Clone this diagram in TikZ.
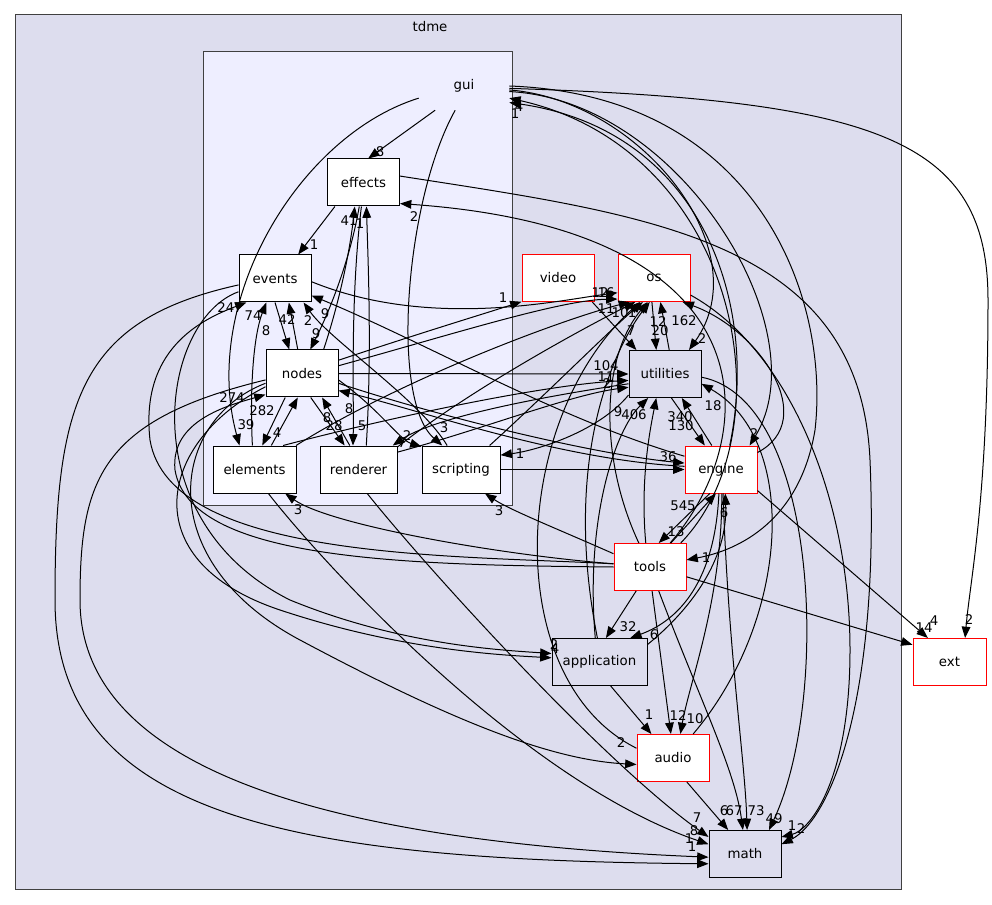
\documentclass[tikz,border=0pt]{standalone}
\usepackage{fontspec}
\setmainfont{DejaVu Sans}
\usetikzlibrary{arrows.meta}
\definecolor{clusterbg}{HTML}{DDDDEE}
\definecolor{guibg}{HTML}{EEEEFF}
\tikzset{
dirbox/.style={draw=black, fill=white, line width=0.75pt, minimum width=54pt, minimum height=35.25pt, inner sep=0pt, font=\fontsize{10}{12}\selectfont},
extdir/.style={dirbox, draw=red},
localdir/.style={dirbox, fill=clusterbg},
cluster/.style={draw=black!75, line width=0.75pt},
dep/.style={-{Triangle[length=8.5pt,width=6.5pt]}, line width=0.75pt},
num/.style={font=\fontsize{10}{12}\selectfont, inner sep=0pt},
}

\begin{document}
\begin{tikzpicture}[x=0.75pt,y=-0.75pt]
\useasboundingbox (0,0) rectangle (992,905);

%
\draw[cluster, fill=clusterbg] (15,15) rectangle (901,889);
\node[num] (tdmename) at (430,27) {tdme};
\draw[cluster, fill=guibg] (203,52) rectangle (512,505);

%
\node[num, minimum width=67.5pt, minimum height=36pt] (gui) at (464,86) {gui};
\node[dirbox] (effects) at (363.5,182.5) {effects};
\node[dirbox] (events) at (275,278.5) {events};
\node[dirbox] (nodes) at (302,373.5) {nodes};
\node[dirbox, minimum width=62.25pt] (elements) at (254.5,469.5) {elements};
\node[dirbox, minimum width=57.75pt] (renderer) at (358.5,469.5) {renderer};
\node[dirbox, minimum width=58.5pt] (scripting) at (461,469.5) {scripting};
\node[extdir] (video) at (558,278) {video};
\node[extdir] (os) at (654,278) {os};
\node[localdir] (utilities) at (665,374) {utilities};
\node[extdir] (engine) at (721,469.5) {engine};
\node[extdir] (tools) at (650,567) {tools};
\node[localdir, minimum width=71.25pt] (application) at (599.5,662) {application};
\node[extdir] (audio) at (673,758) {audio};
\node[localdir] (math) at (745,854) {math};
\node[extdir, minimum width=54.75pt] (ext) at (949.5,662) {ext};

%
\draw[dep] (gui.-140) -- (effects.79) node[num] (c1) at (380,152) {8};
\draw[dep] (gui.-165) .. controls (300,135) and (200,300) .. (elements.122) node[num] (c2) at (246,425) {39};
\draw[dep] (gui.-110) .. controls (405,200) and (390,400) .. (scripting.128) node[num] (c3) at (444,428) {3};
\draw[dep] (gui.-3) .. controls (880,100) and (988,140) .. (988,300) .. controls (988,500) and (970,580) .. (ext.57) node[num] (c4) at (969,620) {2};
\draw[dep] (tools.38) .. controls (790,430) and (740,150) .. (gui.-15) node[num] (c5) at (519,107) {4};
\draw[dep] (engine.70) .. controls (760,300) and (700,130) .. (gui.-20) node[num] (c6) at (515,114) {1};
\draw[dep] (gui.-5) .. controls (640,100) and (760,250) .. (utilities.45) node[num] (c7) at (702,339) {2};
\draw[dep] (gui.-7) .. controls (680,100) and (820,330) .. (engine.40) node[num] (c8) at (754,434) {2};
\draw[dep] (gui.0) .. controls (760,95) and (830,300) .. (815,430) .. controls (800,520) and (740,550) .. (tools.11) node[num] (c9) at (706,558) {1};

%
\draw[dep] (effects.-140) -- (events.46) node[num] (c10) at (314,245) {1};
\draw[dep] (effects.-100) .. controls (350,260) and (330,310) .. (nodes.71) node[num] (c11) at (316,334) {9};
\draw[dep] (nodes.48) .. controls (340,300) and (350,250) .. (effects.-110) node[num] (c12) at (349,221) {41};
\draw[dep] (effects.-95) .. controls (350,300) and (354,400) .. (renderer.103) node[num] (c13) at (362,426) {5};
\draw[dep] (renderer.72) .. controls (372,350) and (368,260) .. (effects.-83) node[num] (c14) at (360,224) {1};
\draw[dep] (effects.10) .. controls (650,215) and (860,240) .. (870,460) .. controls (880,700) and (830,820) .. (math.15) node[num] (c15) at (801,829) {2};
\draw[dep] (tools.50) .. controls (760,440) and (780,230) .. (effects.-30) node[num] (c16) at (414,217) {2};

%
\draw[dep] (events.-90) -- (nodes.118) node[num] (c17) at (266,331) {8};
\draw[dep] (nodes.100) -- (events.-60) node[num] (c18) at (287,320) {42};
\draw[dep] (scripting.120) .. controls (420,400) and (330,340) .. (events.-40) node[num] (c19) at (308,321) {2};
\draw[dep] (engine.160) .. controls (560,420) and (420,340) .. (events.-25) node[num] (c20) at (325,314) {9};
\draw[dep] (elements.95) .. controls (250,400) and (252,340) .. (events.-110) node[num] (c21) at (253,316) {74};
\draw[dep] (tools.175) .. controls (450,555) and (170,560) .. (150,440) .. controls (140,350) and (200,320) .. (events.-140) node[num] (c22) at (230,308) {247};
\draw[dep] (events.-5) .. controls (430,330) and (560,300) .. (os.-158) node[num] (c23) at (600,293) {12};

%
\draw[dep] (nodes.20) .. controls (430,330) and (480,315) .. (video.-147) node[num] (c24) at (503,298) {1};
\draw[dep] (nodes.12) .. controls (450,335) and (560,300) .. (os.-150) node[num] (c25) at (606,293) {16};
\draw[dep] (nodes.0) -- (utilities.180) node[num] (c26) at (606,366) {104};
\draw[dep] (nodes.-15) .. controls (450,420) and (600,455) .. (engine.170) node[num] (c27) at (668,457) {36};
\draw[dep] (scripting.0) -- (engine.180);
\draw[dep] (nodes.-125) -- (elements.72) node[num] (c28) at (277,433) {4};
\draw[dep] (elements.55) -- (nodes.-100) node[num] (c29) at (262,411) {282};
\draw[dep] (nodes.-70) -- (renderer.120) node[num] (c30) at (334,426) {28};
\draw[dep] (renderer.110) -- (nodes.-50) node[num] (c31) at (327,418) {8};
\draw[dep] (engine.175) .. controls (560,460) and (420,410) .. (nodes.-25) node[num] (c32) at (349,409) {8};
\draw[dep] (nodes.-10) .. controls (380,410) and (400,440) .. (scripting.150) node[num] (c33) at (402,443) {7};
\draw[dep] (utilities.-165) .. controls (520,400) and (430,420) .. (renderer.35) node[num] (c34) at (407,436) {2};
\draw[dep] (tools.180) .. controls (400,565) and (190,560) .. (175,470) .. controls (170,420) and (230,405) .. (nodes.-150) node[num] (c35) at (232,398) {274};

%
\draw[dep] (elements.40) .. controls (380,420) and (540,385) .. (utilities.-170) node[num] (c36) at (606,377) {11};
\draw[dep] (renderer.24) .. controls (480,430) and (570,395) .. (utilities.-160) node[num] (c37) at (607,384) {2};
\draw[dep] (elements.30) .. controls (400,380) and (560,320) .. (os.-135) node[num] (c38) at (606,309) {11};
\draw[dep] (renderer.30) .. controls (470,390) and (580,330) .. (os.-128) node[num] (c39) at (620,313) {10};
\draw[dep] (scripting.40) .. controls (540,400) and (610,330) .. (os.-115) node[num] (c40) at (632,313) {1};
\draw[dep] (utilities.-150) .. controls (600,430) and (540,450) .. (scripting.20) node[num] (c41) at (520,454) {1};

%
\draw[dep] (video.-35) -- (utilities.140) node[num] (c42) at (631,331) {7};
\draw[dep] (os.-95) -- (utilities.110) node[num] (c43) at (660,331) {20};
\draw[dep] (utilities.80) -- (os.-75) node[num] (c44) at (658,322) {12};
\draw[dep] (engine.25) .. controls (820,420) and (760,330) .. (os.-40) node[num] (c45) at (684,321) {162};
\draw[dep] (os.-25) .. controls (790,350) and (850,500) .. (850,650) .. controls (850,780) and (810,830) .. (math.25) node[num] (c46) at (792,826) {1};
\draw[dep] (utilities.-75) -- (engine.124) node[num] (c47) at (681,426) {130};
\draw[dep] (engine.111) -- (utilities.-55) node[num] (c48) at (680,417) {340};
\draw[dep] (audio.50) .. controls (790,620) and (800,440) .. (utilities.-15) node[num] (c49) at (713,406) {18};
\draw[dep] (application.100) .. controls (585,520) and (615,430) .. (utilities.-125) node[num] (c50) at (618,412) {9};
\draw[dep] (tools.100) .. controls (640,480) and (650,430) .. (utilities.-110) node[num] (c51) at (634,415) {406};
\draw[dep] (tools.115) .. controls (600,460) and (600,360) .. (os.-105);
\draw[dep] (application.95) .. controls (560,450) and (620,340) .. (os.-100);
\draw[dep] (audio.165) .. controls (500,680) and (510,420) .. (os.-120);
\draw[dep] (utilities.-5) .. controls (820,400) and (830,700) .. (math.45) node[num] (c52) at (774,819) {49};

%
\draw[dep] (engine.-115) -- (tools.70) node[num] (c53) at (676,532) {13};
\draw[dep] (tools.49) -- (engine.-102) node[num] (c54) at (683,506) {545};
\draw[dep] (application.20) .. controls (690,610) and (728,560) .. (engine.-80) node[num] (c55) at (724,513) {6};
\draw[dep] (engine.-95) .. controls (715,580) and (680,620) .. (application.38) node[num] (c56) at (654,635) {6};
\draw[dep] (tools.-120) -- (application.75) node[num] (c57) at (628,627) {32};
\draw[dep] (tools.-85) -- (audio.95) node[num] (c58) at (678,716) {12};
\draw[dep] (engine.-88) .. controls (722,600) and (690,680) .. (audio.73) node[num] (c59) at (695,719) {10};
\draw[dep] (application.-65) -- (audio.132) node[num] (c60) at (649,715) {1};
\draw[dep] (audio.-60) -- (math.125) node[num] (c61) at (724,811) {6};
\draw[dep] (tools.-70) .. controls (700,700) and (735,770) .. (math.95) node[num] (c62) at (734,811) {67};
\draw[dep] (engine.-85) .. controls (728,650) and (745,760) .. (math.85) node[num] (c63) at (756,811) {73};
\draw[dep] (engine.-30) -- (ext.132) node[num] (c64) at (934,621) {4};
\draw[dep] (tools.-15) -- (ext.155) node[num] (c65) at (924,628) {14};
\draw[dep] (tools.175) .. controls (500,555) and (330,525) .. (elements.-38) node[num] (c66) at (298,510) {3};
\draw[dep] (tools.160) .. controls (560,530) and (510,510) .. (scripting.-45) node[num] (c67) at (499,511) {3};

%
\draw[dep] (nodes.-160) .. controls (160,440) and (130,560) .. (280,610) .. controls (400,650) and (500,655) .. (application.175) node[num] (c68) at (555,649) {4};
\draw[dep] (events.200) .. controls (160,320) and (130,520) .. (290,600) .. controls (400,645) and (500,650) .. (application.170) node[num] (c69) at (554,645) {2};
\draw[dep] (nodes.-165) .. controls (170,420) and (150,560) .. (300,640) .. controls (450,720) and (550,760) .. (audio.-170) node[num] (c70) at (621,743) {2};
\draw[dep] (renderer.-70) .. controls (420,560) and (600,760) .. (math.155) node[num] (c71) at (697,818) {7};
\draw[dep] (elements.-60) .. controls (320,560) and (520,780) .. (math.165) node[num] (c72) at (694,831) {8};
\draw[dep] (nodes.-170) .. controls (100,420) and (80,480) .. (80,600) .. controls (80,760) and (300,840) .. (math.185) node[num] (c73) at (689,839) {1};
\draw[dep] (events.190) .. controls (80,320) and (55,400) .. (55,600) .. controls (55,820) and (300,860) .. (math.195) node[num] (c74) at (692,847) {1};
\end{tikzpicture}
\end{document}
